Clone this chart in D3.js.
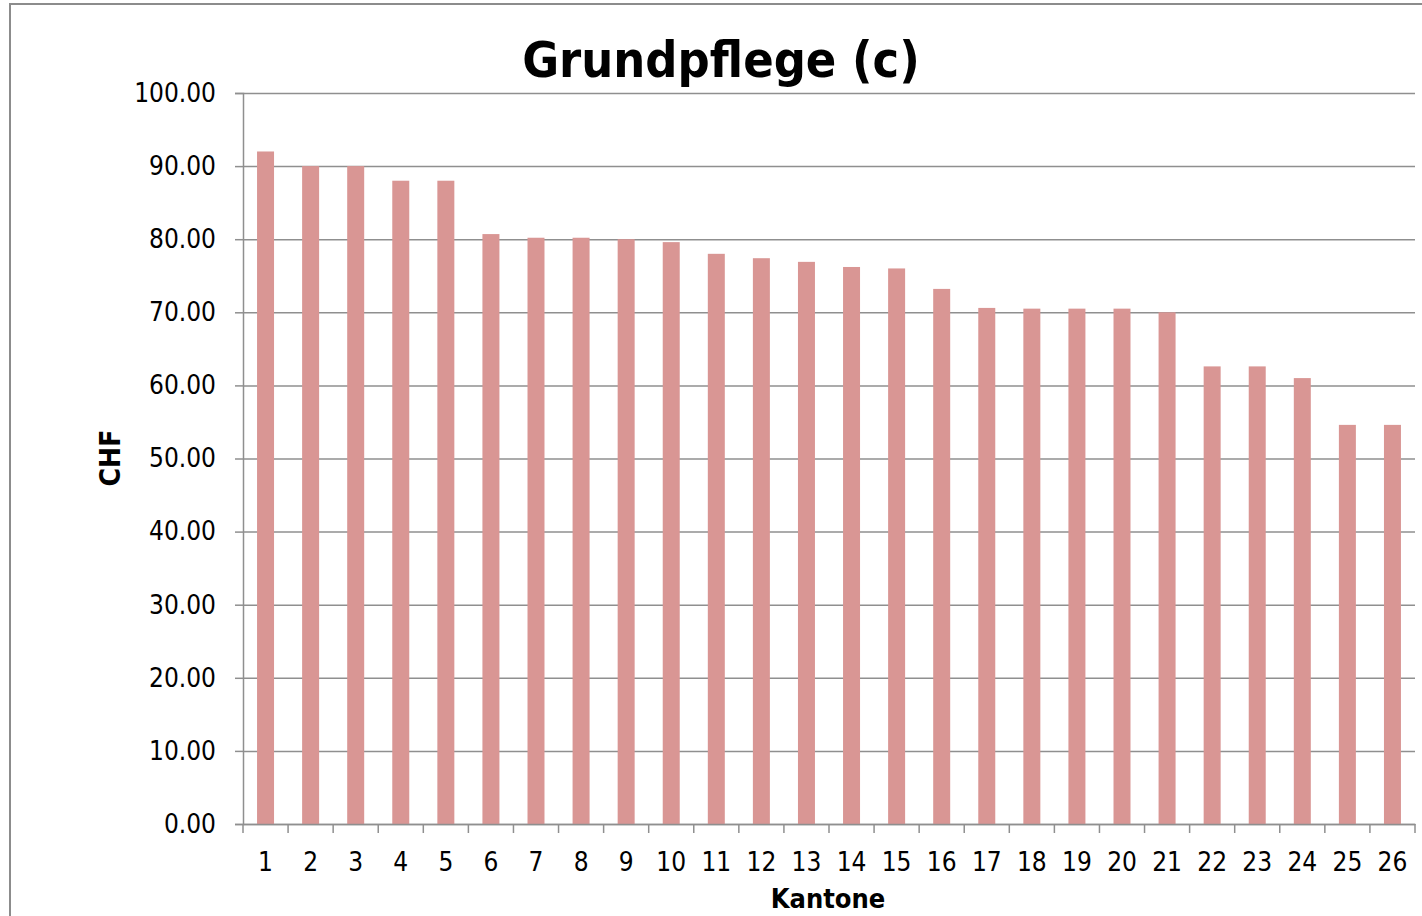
<!DOCTYPE html>
<html>
<head>
<meta charset="utf-8">
<script src="https://cdn.jsdelivr.net/npm/d3@7"></script>
<style>
  body { margin: 0; background: #fff; }
  text { font-family: "DejaVu Sans Condensed", "DejaVu Sans", sans-serif; fill: #000; }
</style>
</head>
<body>
<script>
// Kantone 1..26 and their CHF value for Grundpflege (c)
var kantone = d3.range(1, 27).map(String);
var werte = [92.0, 90.0, 90.0, 88.0, 88.0, 80.7, 80.2, 80.2, 80.0, 79.6,
             78.0, 77.4, 76.9, 76.2, 76.0, 73.2, 70.6, 70.5, 70.5, 70.5,
             70.0, 62.6, 62.6, 61.0, 54.6, 54.6];
var yTicks = [0, 10, 20, 30, 40, 50, 60, 70, 80, 90, 100];

var data = kantone.map(function(k, i) { return {kanton: k, wert: werte[i]}; });

var W = 1422, H = 916;
var margin = {top: 93, right: 7, bottom: 92, left: 243};
var width = W - margin.left - margin.right,
    height = H - margin.top - margin.bottom;

var svg = d3.select("body").append("svg")
    .attr("width", W)
    .attr("height", H);

// outer chart frame
svg.append("rect")
    .attr("x", 10).attr("y", 4)
    .attr("width", W).attr("height", H)
    .attr("fill", "none")
    .attr("stroke", "#8c8c8c")
    .attr("stroke-width", 2);

var g = svg.append("g")
    .attr("transform", "translate(" + margin.left + "," + margin.top + ")");

var gap = 0.623;
var x = d3.scaleBand()
    .domain(kantone)
    .range([0, width])
    .paddingInner(gap)
    .paddingOuter(gap / 2);

var y = d3.scaleLinear()
    .domain([0, 100])
    .range([height, 0]);

// gridlines
g.append("g")
    .attr("class", "grid")
    .call(d3.axisLeft(y).tickValues(yTicks).tickSize(-width).tickFormat(""))
    .call(function(s) {
        s.select(".domain").remove();
        s.selectAll("line").attr("stroke", "#8f8f8f").attr("stroke-width", 1.5);
    });

// bars
g.selectAll(".bar")
    .data(data)
    .enter().append("rect")
    .attr("class", "bar")
    .attr("x", function(d) { return x(d.kanton); })
    .attr("y", function(d) { return y(d.wert); })
    .attr("width", x.bandwidth())
    .attr("height", function(d) { return height - y(d.wert); })
    .attr("fill", "#d99694");

// y axis
g.append("g")
    .call(d3.axisLeft(y).tickValues(yTicks).tickFormat(d3.format(".2f")).tickSize(8).tickPadding(19))
    .call(function(s) {
        s.select(".domain").attr("stroke", "#8f8f8f").attr("stroke-width", 1.5);
        s.selectAll("line").attr("stroke", "#8f8f8f").attr("stroke-width", 1.5);
        s.selectAll("text").attr("font-size", 26).attr("font-family", null);
    });

// x axis: labels centred on bands, tick marks on band boundaries
var step = x.step();
var xAxis = g.append("g")
    .attr("transform", "translate(0," + height + ")")
    .call(d3.axisBottom(x).tickSize(0).tickPadding(29))
    .call(function(s) {
        s.select(".domain").attr("stroke", "#8f8f8f").attr("stroke-width", 1.5);
        s.selectAll("text").attr("font-size", 26).attr("font-family", null);
    });

xAxis.selectAll(".boundary")
    .data(d3.range(kantone.length + 1))
    .enter().append("line")
    .attr("class", "boundary")
    .attr("x1", function(i) { return x.range()[0] + i * step; })
    .attr("x2", function(i) { return x.range()[0] + i * step; })
    .attr("y1", 0).attr("y2", 9)
    .attr("stroke", "#8f8f8f")
    .attr("stroke-width", 1.5);

// titles
svg.append("text")
    .attr("x", 721).attr("y", 77)
    .attr("text-anchor", "middle")
    .attr("font-size", 50)
    .attr("font-weight", "bold")
    .text("Grundpflege (c)");

svg.append("text")
    .attr("transform", "translate(120,458) rotate(-90)")
    .attr("text-anchor", "middle")
    .attr("font-size", 28)
    .attr("font-weight", "bold")
    .text("CHF");

svg.append("text")
    .attr("x", 828).attr("y", 908)
    .attr("text-anchor", "middle")
    .attr("font-size", 27)
    .attr("font-weight", "bold")
    .text("Kantone");
</script>
</body>
</html>
